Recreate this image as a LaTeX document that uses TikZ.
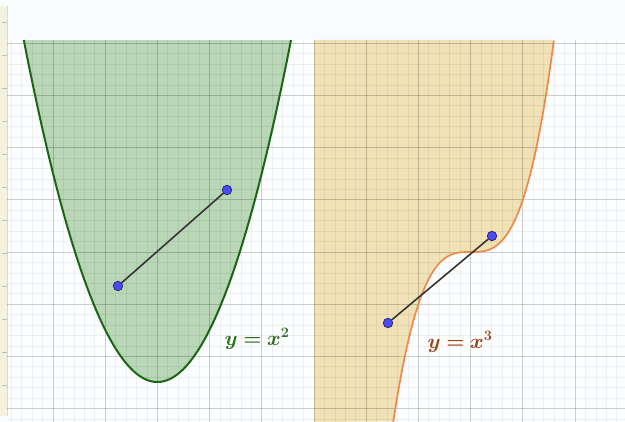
\documentclass[tikz,border=0pt]{standalone}
\usepackage{amsmath,bm}
\begin{document}
\begin{tikzpicture}[x=1pt,y=-1pt,
  dot/.style={circle,inner sep=0pt,minimum size=9.5pt,fill=dotblue,draw=dotedge,line width=0.7pt},
  seg/.style={draw=segcol,line width=1.6pt},
  majorline/.style={draw=black,draw opacity=0.14,line width=0.9pt},
  minorline/.style={draw=black,draw opacity=0.055,line width=0.7pt},
  lbl/.style={font=\fontsize{22}{24}\selectfont,inner sep=0pt}]
\definecolor{bg}{HTML}{F9FCFF}
\definecolor{gridbg}{HTML}{FDFEFF}
\definecolor{strip}{HTML}{F4F1DE}
\definecolor{greenfill}{HTML}{B9D6B6}
\definecolor{greencurve}{HTML}{1B6614}
\definecolor{greenlabel}{HTML}{2E6E1E}
\definecolor{tanfill}{HTML}{F1E1B6}
\definecolor{orangecurve}{HTML}{EE8A48}
\definecolor{brownlabel}{HTML}{9A4115}
\definecolor{dotblue}{HTML}{4B4BF5}
\definecolor{dotedge}{HTML}{22226A}
\definecolor{segcol}{HTML}{353535}
\useasboundingbox (0,0) rectangle (625,422);
\fill[bg] (0,0) rectangle (625,422);
\fill[gridbg] (7,40) rectangle (625,422);
% left strip
\fill[strip] (0,6) rectangle (7,416);
\draw[black!15,line width=0.6pt] (7,6) -- (7,416);
\foreach \k in {0,...,11} {\draw[black!25,line width=0.7pt] (2,{22+33*\k}) -- (7,{22+33*\k});}
% fills
\fill[greenfill] plot[domain=-2.5596:2.5596,samples=120] ({157.4+52.2*\x},{382-52.2*\x*\x}) -- cycle;
\fill[tanfill] (314,40) -- plot[domain=1.5955:-1.4822,samples=120] ({470.6+52.2*\x},{252-52.2*\x*\x*\x}) -- (314,422) -- cycle;
% grid
\begin{scope}
\clip (7,40) rectangle (625,422);
\foreach \k in {-4,...,55} {\draw[minorline] ({53+10.44*\k},40) -- ({53+10.44*\k},422);}
\foreach \k in {-21,...,17} {\draw[minorline] (7,{252+10.44*\k}) -- (625,{252+10.44*\k});}
\foreach \k in {0,...,11} {\draw[majorline] ({53+52.2*\k},40) -- ({53+52.2*\k},422);}
\foreach \k in {-4,...,3} {\draw[majorline] (7,{252+52.2*\k}) -- (625,{252+52.2*\k});}
\end{scope}
% curves
\draw[greencurve,line width=2pt] plot[domain=-2.5596:2.5596,samples=120] ({157.4+52.2*\x},{382-52.2*\x*\x});
\draw[orangecurve,line width=1.7pt] plot[domain=-1.4822:1.5955,samples=120] ({470.6+52.2*\x},{252-52.2*\x*\x*\x});
% segments with end points
\node[dot] (p1) at (118,286) {};
\node[dot] (p2) at (227,190) {};
\draw[seg] (p1) -- (p2);
\node[dot] (q1) at (388,323) {};
\node[dot] (q2) at (492,236) {};
\draw[seg] (q1) -- (q2);
% labels
\node[lbl,text=greenlabel] (lsq) at (257,339) {$\bm{y=x^2}$};
\node[lbl,text=brownlabel] (lcu) at (460,342) {$\bm{y=x^3}$};
\end{tikzpicture}
\end{document}
